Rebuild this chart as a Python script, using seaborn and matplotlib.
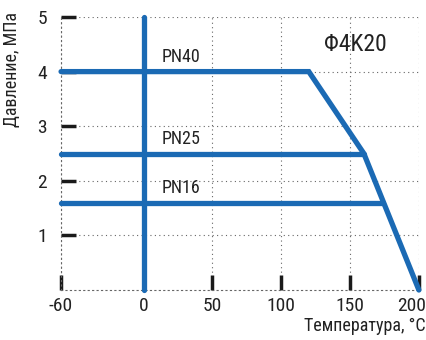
import matplotlib
matplotlib.use("agg")
import matplotlib.pyplot as plt
import matplotlib.transforms as mtransforms
import seaborn as sns
import pandas as pd

# pressure-temperature curves
pn40_t = [-60, 120, 160, 200]
pn40_p = [4, 4, 2.5, 0]
pn25_t = [-60, 160]
pn25_p = [2.5, 2.5]
pn16_t = [-60, 174]
pn16_p = [1.6, 1.6]
zero_t = [0, 0]
zero_p = [0, 5]

x_ticks = [-60, 0, 50, 100, 150, 200]
y_ticks = [1, 2, 3, 4, 5]
series_labels = ["PN40", "PN25", "PN16"]
series_label_y = [4, 2.5, 1.6]

sns.set_style("ticks")
plt.rcParams['font.family'] = ['Liberation Sans Narrow', 'Roboto Condensed',
                               'Liberation Sans', 'DejaVu Sans']
plt.rcParams['axes.unicode_minus'] = False

df = pd.concat([
    pd.DataFrame({"t": pn40_t, "p": pn40_p, "s": "PN40"}),
    pd.DataFrame({"t": pn25_t, "p": pn25_p, "s": "PN25"}),
    pd.DataFrame({"t": pn16_t, "p": pn16_p, "s": "PN16"}),
    pd.DataFrame({"t": zero_t, "p": zero_p, "s": "zero"}),
])

blue = "#1b6ab4"
fig = plt.figure(figsize=(4.27, 3.40), dpi=100)
ax = fig.add_axes([0.143, 0.147, 0.838, 0.803])

for name, grp in df.groupby("s", sort=False):
    sns.lineplot(data=grp, x="t", y="p", ax=ax, color=blue, lw=3.8,
                 sort=False, estimator=None, legend=False, clip_on=False,
                 solid_joinstyle="miter", zorder=3)

ax.set_xlim(-60, 200)
ax.set_ylim(0, 5)
ax.set_xticks(x_ticks)
ax.set_yticks(y_ticks)
ax.grid(True, linestyle=(0, (1, 3)), color="#666666", lw=0.8)
for sp in ax.spines.values():
    sp.set_linestyle((0, (1, 3)))
    sp.set_color("#666666")
    sp.set_linewidth(0.8)
ax.spines["top"].set_visible(False)
ax.spines["right"].set_visible(False)

ax.tick_params(axis="both", direction="in", length=11, width=2.5,
               color="#1a1a1a", labelsize=14, labelcolor="#222222")
ax.tick_params(axis="y", pad=10)
ax.tick_params(axis="x", pad=5)

fig.canvas.draw()
# keep the last x label inside the figure
last = ax.xaxis.get_major_ticks()[-1].label1
last.set_transform(last.get_transform() +
                   mtransforms.ScaledTranslation(-5 / 72, 0, fig.dpi_scale_trans))

for lab, yv in zip(series_labels, series_label_y):
    ax.text(13, yv + 0.1, lab, fontsize=13, color="#222222", va="bottom")
ax.text(131, 4.5, "Φ4K20", fontsize=17, color="#222222", va="center")

ax.set_ylabel("Давление, МПа", fontsize=13, color="#222222")
ax.yaxis.set_label_coords(-0.112, 1.02)
ax.yaxis.label.set_ha("right")
ax.set_xlabel("Температура, °C", fontsize=13, color="#222222")
ax.xaxis.set_label_coords(1.02, -0.1)
ax.xaxis.label.set_ha("right")

plt.savefig("out.png", dpi=100)
